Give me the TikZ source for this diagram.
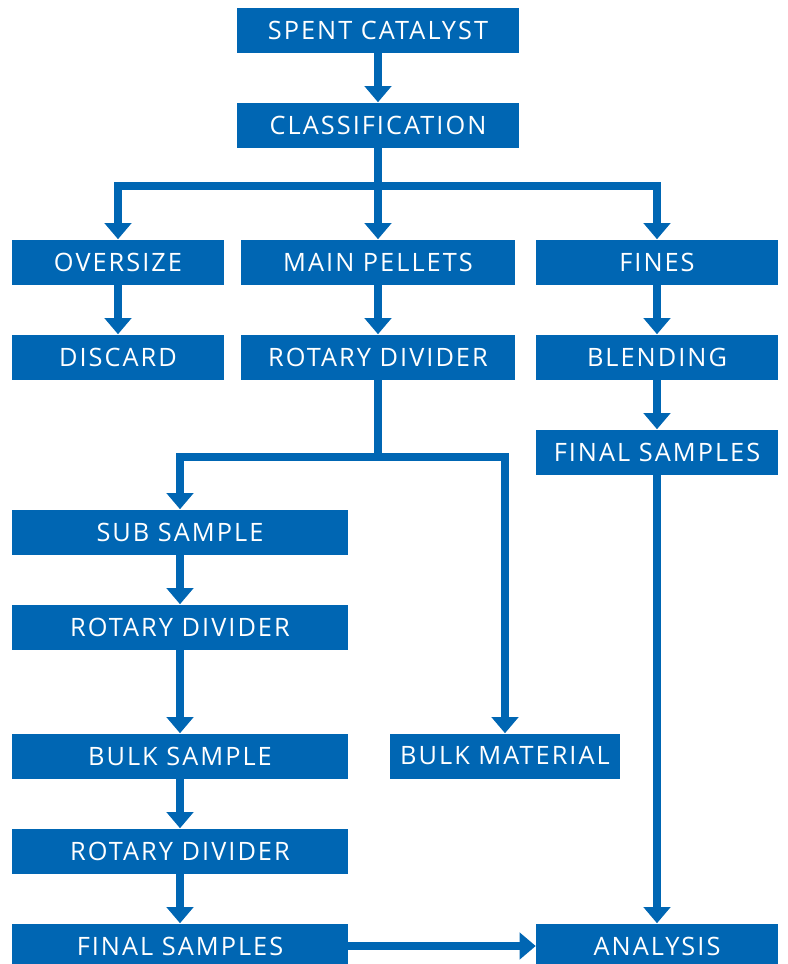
\documentclass[tikz,border=0pt]{standalone}
\usepackage{fontspec}
\setmainfont{Open Sans}[LetterSpace=8]
\usetikzlibrary{arrows.meta,positioning}
\definecolor{FlowBlue}{RGB}{0,102,179}
\tikzset{
  box/.style={rectangle,fill=FlowBlue,text=white,inner sep=0pt,
    minimum height=45*0.75pt,font=\fontsize{19}{22}\selectfont},
  flow/.style={draw=FlowBlue,line width=6pt,-{Triangle[width=19.5pt,length=12pt]}},
  link/.style={draw=FlowBlue,line width=6pt}
}
\begin{document}
\begin{tikzpicture}[x=0.75pt,y=-0.75pt]
      \useasboundingbox (0,0) rectangle (788,964);
      % top of the scheme
      \node[box,minimum width=282*0.75pt] (spent) at (378,30) {SPENT CATALYST};
      \node[box,minimum width=282*0.75pt] (classif) at (378,125) {CLASSIFICATION};
      \node[box,minimum width=212*0.75pt] (oversize) at (118,262) {OVERSIZE};
      \node[box,minimum width=274*0.75pt] (mainpel) at (378,262) {MAIN PELLETS};
      \node[box,minimum width=242*0.75pt] (fines) at (657,262) {FINES};
      \node[box,minimum width=212*0.75pt] (discard) at (118,357) {DISCARD};
      \node[box,minimum width=274*0.75pt] (rotary1) at (378,357) {ROTARY DIVIDER};
      \node[box,minimum width=242*0.75pt] (blending) at (657,357) {BLENDING};
      \node[box,minimum width=242*0.75pt] (finalR) at (657,452) {FINAL SAMPLES};
      % sub sampling branch
      \node[box,minimum width=336*0.75pt] (subsample) at (180,532) {SUB SAMPLE};
      \node[box,minimum width=336*0.75pt] (rotary2) at (180,627) {ROTARY DIVIDER};
      \node[box,minimum width=336*0.75pt] (bulksample) at (180,756) {BULK SAMPLE};
      \node[box,minimum width=230*0.75pt] (bulkmat) at (505,756) {BULK MATERIAL};
      \node[box,minimum width=336*0.75pt] (rotary3) at (180,851) {ROTARY DIVIDER};
      \node[box,minimum width=336*0.75pt] (finalL) at (180,946) {FINAL SAMPLES};
      \node[box,minimum width=242*0.75pt] (analysis) at (657,946) {ANALYSIS};
      \coordinate (split1) at (378,186);
      \coordinate (split2) at (378,457);
      % connectors
      \draw[flow] (spent) -- (classif);
      \draw[link] (classif) -- (split1);
      \draw[flow] (split1) -| (oversize);
      \draw[flow] (split1) -| (fines);
      \draw[flow] (split1) -- (mainpel);
      \draw[flow] (oversize) -- (discard);
      \draw[flow] (mainpel) -- (rotary1);
      \draw[flow] (fines) -- (blending);
      \draw[flow] (blending) -- (finalR);
      \draw[flow] (finalR) -- (analysis);
      \draw[link] (rotary1) -- (split2);
      \draw[flow] (split2) -| (subsample);
      \draw[flow] (split2) -| (bulkmat);
      \draw[flow] (subsample) -- (rotary2);
      \draw[flow] (rotary2) -- (bulksample);
      \draw[flow] (bulksample) -- (rotary3);
      \draw[flow] (rotary3) -- (finalL);
      \draw[flow] (finalL) -- (analysis);
    \end{tikzpicture}
\end{document}
